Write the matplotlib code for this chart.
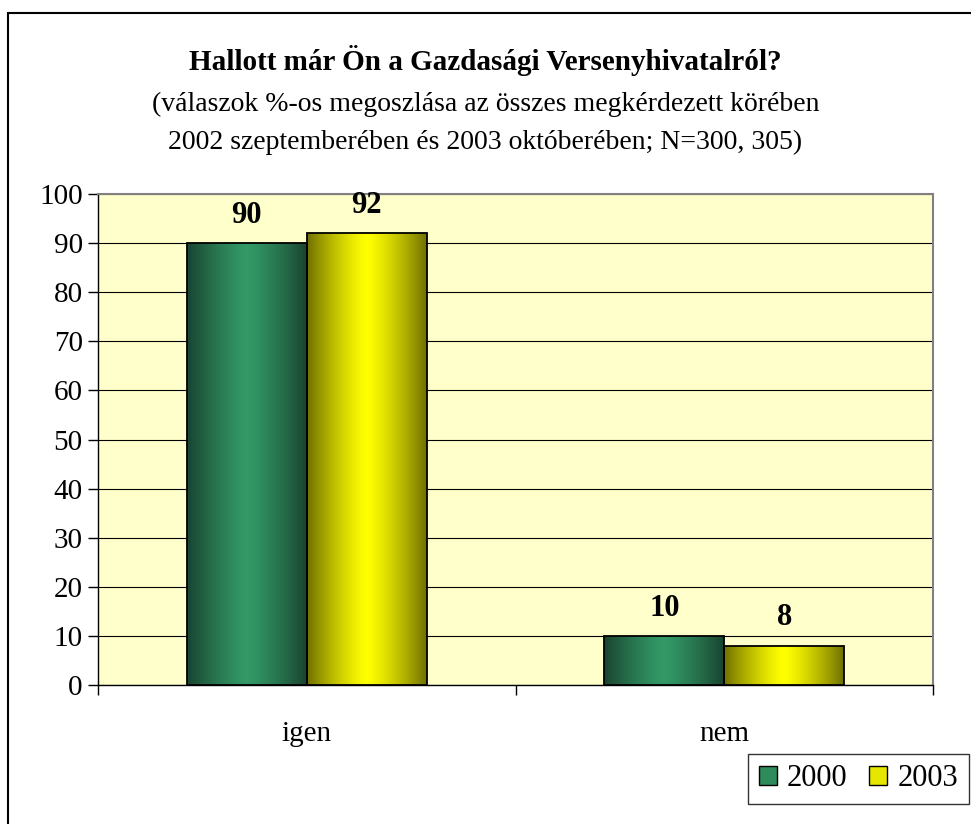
import matplotlib
matplotlib.use('Agg')
import matplotlib.pyplot as plt
import matplotlib.patches as mpatches
import numpy as np

categories = ['igen', 'nem']
series = ['2000', '2003']
values_2000 = [90, 10]
values_2003 = [92, 8]
labels_2000 = ['90', '10']
labels_2003 = ['92', '8']

title = 'Hallott már Ön a Gazdasági Versenyhivatalról?'
subtitle = ('(válaszok %-os megoszlása az összes megkérdezett körében\n'
            '2002 szeptemberében és 2003 októberében; N=300, 305)')

plt.rcParams['font.family'] = ['Liberation Serif', 'DejaVu Serif']

# gradient colours (edge -> centre)
green_dark, green_light = np.array([0.10, 0.27, 0.19]), np.array([0.20, 0.60, 0.40])
yellow_dark, yellow_light = np.array([0.45, 0.45, 0.0]), np.array([1.0, 1.0, 0.0])


def gradient_img(dark, light, n=64):
    t = np.linspace(-1, 1, n)
    w = 1 - np.abs(t) ** 1.3
    img = dark[None, :] + (light - dark)[None, :] * w[:, None]
    return img[None, :, :]


fig = plt.figure(figsize=(9.71, 8.24), dpi=100)
ax = fig.add_axes([98 / 971, 1 - 685 / 824, 835 / 971, 491 / 824])
ax.set_facecolor('#FFFFCC')

x = np.arange(len(categories))
width = 0.287
bars_a = ax.bar(x - width / 2, values_2000, width, color='#339966',
                edgecolor='black', linewidth=1.3, zorder=3, label=series[0])
bars_b = ax.bar(x + width / 2, values_2003, width, color='#FFFF00',
                edgecolor='black', linewidth=1.3, zorder=3, label=series[1])

for bars, dark, light in [(bars_a, green_dark, green_light),
                          (bars_b, yellow_dark, yellow_light)]:
    img = gradient_img(dark, light)
    for b in bars:
        x0, y0 = b.get_x(), b.get_y()
        im = ax.imshow(img, extent=[x0, x0 + b.get_width(), y0, y0 + b.get_height()],
                       aspect='auto', zorder=3.5, interpolation='bilinear')
        im.set_clip_path(b)
        b.set_facecolor('none')
        b.set_zorder(4)

for bars, labs in [(bars_a, labels_2000), (bars_b, labels_2003)]:
    for b, lab in zip(bars, labs):
        ax.text(b.get_x() + b.get_width() / 2, b.get_height() + 2.7, lab,
                ha='center', va='bottom', fontsize=22, fontweight='bold', zorder=5)

ax.set_xlim(-0.5, 1.5)
ax.set_ylim(0, 100)
ax.set_yticks(range(0, 101, 10))
ax.yaxis.grid(True, color='black', linewidth=0.8, zorder=0)
ax.set_axisbelow(True)
ax.set_xticks(x)
ax.set_xticklabels(categories)
ax.set_xticks([-0.5, 0.5, 1.5], minor=True)
ax.tick_params(axis='x', which='major', length=0, pad=26, labelsize=21)
ax.tick_params(axis='x', which='minor', length=7, width=1, direction='out')
ax.tick_params(axis='y', length=7, width=1, direction='out', labelsize=21, pad=4)

for s in ['top', 'right']:
    ax.spines[s].set_color('#808080')
    ax.spines[s].set_linewidth(1.5)
for s in ['left', 'bottom']:
    ax.spines[s].set_color('black')
    ax.spines[s].set_linewidth(1.0)

fig.text(0.5, 1 - 60 / 824, title, ha='center', va='center',
         fontsize=21, fontweight='bold')
fig.text(0.5, 1 - 123 / 824, subtitle, ha='center', va='center',
         fontsize=20, linespacing=1.67)

handles = [mpatches.Patch(facecolor='#2E8B5A', edgecolor='black', label=series[0]),
           mpatches.Patch(facecolor='#E6E600', edgecolor='black', label=series[1])]
leg = fig.legend(handles=handles, loc='lower right', ncol=2,
                 bbox_to_anchor=(969 / 971, 1 - 804 / 824),
                 fontsize=22, frameon=True, fancybox=False, edgecolor='black',
                 handlelength=0.6, handleheight=0.6, handletextpad=0.33,
                 columnspacing=0.7, borderpad=0.35, borderaxespad=0)
leg.get_frame().set_linewidth(1.0)

# outer chart border (runs off the right and bottom edges)
border = mpatches.Rectangle((8 / 971, -0.05), 1.1, 1 - 13 / 824 + 0.05,
                            transform=fig.transFigure, fill=False,
                            edgecolor='black', linewidth=1.5)
fig.patches.append(border)

fig.savefig('out.png', dpi=100)
